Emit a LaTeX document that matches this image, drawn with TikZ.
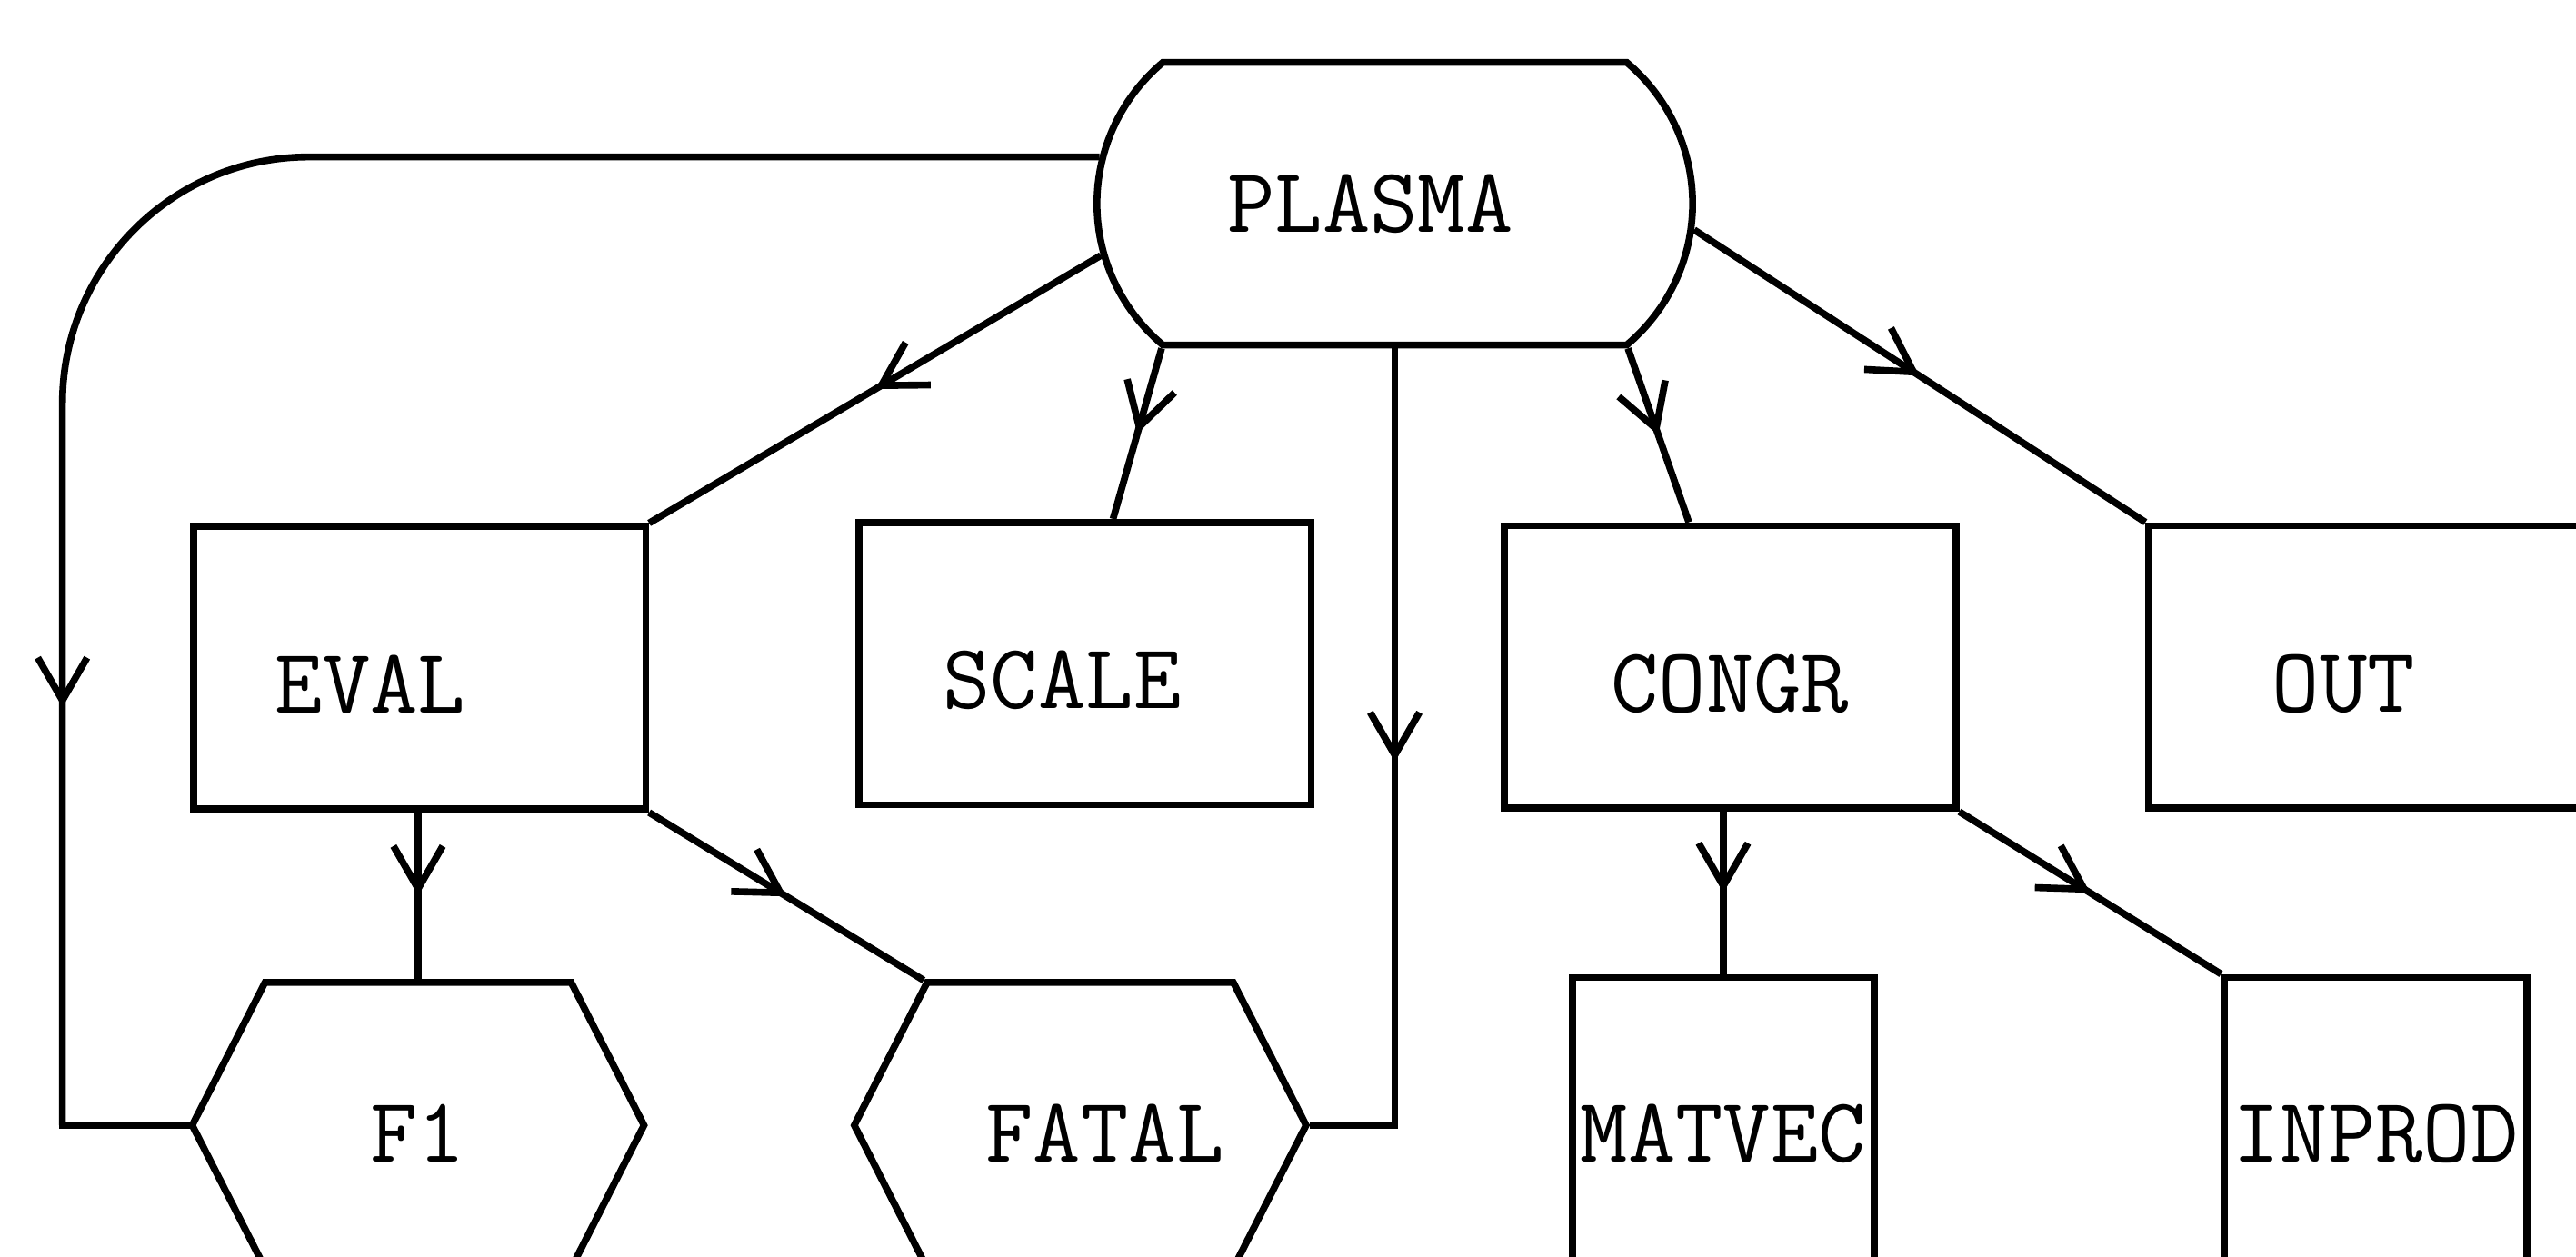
\documentclass[tikz,border=0pt]{standalone}
\usepackage{fontspec}
\usepackage{tikz}
\usetikzlibrary{shapes.misc, shapes.symbols, arrows.meta, decorations.markings}

\begin{document}
\begin{tikzpicture}[
    line width=1.2pt,
    every node/.style={font=\fontsize{16}{19}\selectfont\ttfamily},
    box/.style={draw, rectangle, minimum width=2.75cm, minimum height=1.72cm, inner sep=0pt,
      text height=0.55cm, text depth=0pt},
    tall/.style={draw, rectangle, minimum width=1.84cm, minimum height=1.8cm, inner sep=0pt,
      text height=0.45cm, text depth=0pt},
    hexa/.style={draw, signal, signal to=west and east, signal pointer angle=126,
      minimum width=2.75cm, minimum height=1.74cm, inner sep=0pt,
      text height=0.45cm, text depth=0pt},
    oval/.style={draw, rounded rectangle, rounded rectangle arc length=100,
      minimum width=3.86cm, minimum height=1.72cm},
    flow/.style={postaction={decorate}, decoration={markings,
      mark=at position #1 with {\arrow{Straight Barb[length=2.6mm,width=3mm]}}}},
    flow/.default=0.5
  ]
  \path[use as bounding box, clip] (0,0) rectangle (15.68,-7.65);

  % main routine and the level below it
  \node[oval] (plasma) at (8.49,-1.24) {PLASMA\hspace*{0.3cm}};
  \node[box] (eval) at (2.555,-4.065) {EVAL\hspace*{0.6cm}};
  \node[box] (scale) at (6.605,-4.04) {SCALE\hspace*{0.28cm}};
  \node[box] (congr) at (10.53,-4.06) {CONGR};
  \node[box] (out) at (14.455,-4.06) {OUT\hspace*{0.38cm}};

  % bottom level
  \node[hexa] (f1) at (2.545,-6.85) {F1};
  \node[hexa] (fatal) at (6.575,-6.85) {\hspace*{0.3cm}FATAL};
  \node[tall] (matvec) at (10.49,-6.85) {MATVEC};
  \node[tall] (inprod) at (14.46,-6.85) {INPROD};
  \coordinate (bend) at (0.38,-6.85);

  \draw[flow] (plasma.190) -- (eval.north east);
  \draw[flow] (plasma.south west) -- ([xshift=0.17cm]scale.north);
  \draw[flow=0.48] (plasma.south) |- (fatal.east);
  \draw[flow] (plasma.south east) -- ([xshift=-0.25cm]congr.north);
  \draw[flow] (plasma.355) -- (out.north west);
  \draw[flow] (eval.south -| f1.north) -- (f1.north);
  \draw[flow] (eval.south east) -- (fatal.north west);
  \draw[flow] (congr.south -| matvec.north) -- (matvec.north);
  \draw[flow] (congr.south east) -- (inprod.north west);
  \draw[flow=0.78, rounded corners=1.5cm] (plasma.171) -| (bend);
  \draw[line cap=rect] (bend) -- (f1.west);
\end{tikzpicture}
\end{document}
